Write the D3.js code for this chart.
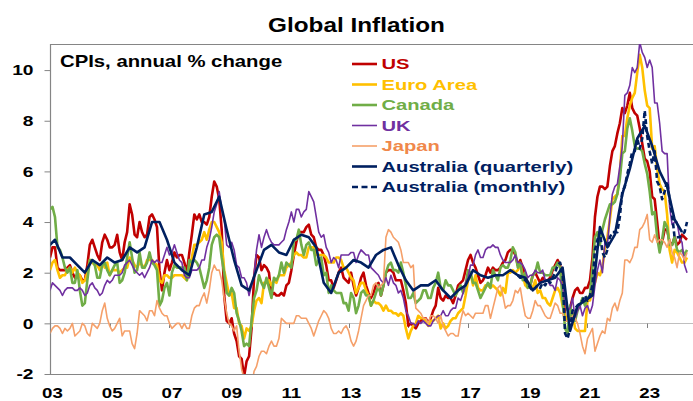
<!DOCTYPE html>
<html><head><meta charset="utf-8">
<script src="https://cdn.jsdelivr.net/npm/d3@7"></script>
<style>
body{margin:0;background:#fff;}
svg{display:block;}
text{font-family:"Liberation Sans",Arial,sans-serif;font-weight:bold;}
</style>
</head><body>
<svg id="chart" width="693" height="401"></svg>
<script>
// ---------- DATA (annual % change, monthly from Jan 2003 unless noted) ----------
const monthlyStart = 2003; // Jan 2003
const us = [
2.6,3.0,3.0,2.2,2.1,2.1,2.1,2.2,2.3,2.0,1.8,1.9,
1.9,1.7,1.7,2.3,3.1,3.3,3.0,2.7,2.5,3.2,3.5,3.3,
3.0,3.0,3.1,3.5,2.8,2.5,3.2,3.6,4.7,4.3,3.5,3.4,
4.0,3.6,3.4,3.5,4.2,4.3,4.1,3.8,2.1,1.3,2.0,2.5,
2.1,2.4,2.8,2.6,2.7,2.7,2.4,2.0,2.8,3.5,4.3,4.1,
4.3,4.0,4.0,3.9,4.2,5.0,5.6,5.4,4.9,3.7,1.1,0.1,
0.0,0.2,-0.4,-0.7,-1.3,-1.4,-2.1,-1.5,-1.3,-0.2,1.8,2.7,
2.6,2.1,2.3,2.2,2.0,1.1,1.2,1.1,1.1,1.2,1.1,1.5,
1.6,2.1,2.7,3.2,3.6,3.6,3.6,3.8,3.9,3.5,3.4,3.0,
2.9,2.9,2.7,2.3,1.7,1.7,1.4,1.7,2.0,2.2,1.8,1.7,
1.6,2.0,1.5,1.1,1.4,1.8,2.0,1.5,1.2,1.0,1.2,1.5,
1.6,1.1,1.5,2.0,2.1,2.1,2.0,1.7,1.7,1.7,1.3,0.8,
-0.1,0.0,-0.1,-0.2,0.0,0.1,0.2,0.2,0.0,0.2,0.5,0.7,
1.4,1.0,0.9,1.1,1.0,1.0,0.8,1.1,1.5,1.6,1.7,2.1,
2.5,2.7,2.4,2.2,1.9,1.6,1.7,1.9,2.2,2.0,2.2,2.1,
2.1,2.2,2.4,2.5,2.8,2.9,2.9,2.7,2.3,2.5,2.2,1.9,
1.6,1.5,1.9,2.0,1.8,1.6,1.8,1.7,1.7,1.8,2.1,2.3,
2.5,2.3,1.5,0.3,0.1,0.6,1.0,1.3,1.4,1.2,1.2,1.4,
1.4,1.7,2.6,4.2,5.0,5.4,5.4,5.3,5.4,6.2,6.8,7.0,
7.5,7.9,8.5,8.3,8.6,9.1,8.5,8.3,8.2,7.7,7.1,6.5,
6.4,6.0,5.0,4.9,4.0,3.0,3.2,3.7,3.7,3.2,3.1,3.4,
3.1,3.2,3.5,3.4,3.3];
const euroArea = [
2.1,2.4,2.5,2.1,1.8,1.9,1.9,2.1,2.2,2.0,2.2,2.0,
1.9,1.6,1.7,2.0,2.5,2.4,2.3,2.3,2.1,2.4,2.2,2.4,
1.9,2.1,2.1,2.1,2.0,2.1,2.2,2.2,2.6,2.5,2.3,2.2,
2.4,2.3,2.2,2.5,2.5,2.5,2.4,2.3,1.7,1.6,1.9,1.9,
1.8,1.8,1.9,1.9,1.9,1.9,1.8,1.7,2.1,2.6,3.1,3.1,
3.2,3.3,3.6,3.3,3.7,4.0,4.0,3.8,3.6,3.2,2.1,1.6,
1.1,1.2,0.6,0.6,0.0,-0.1,-0.6,-0.2,-0.3,-0.1,0.5,0.9,
1.0,0.8,1.6,1.6,1.7,1.5,1.7,1.6,1.9,1.9,1.9,2.2,
2.3,2.4,2.7,2.8,2.7,2.7,2.6,2.6,3.0,3.0,3.0,2.7,
2.7,2.7,2.7,2.6,2.4,2.4,2.4,2.6,2.6,2.5,2.2,2.2,
2.0,1.8,1.7,1.2,1.4,1.6,1.6,1.3,1.1,0.7,0.9,0.8,
0.8,0.7,0.5,0.7,0.5,0.5,0.4,0.4,0.3,0.4,0.3,-0.2,
-0.6,-0.3,-0.1,0.0,0.3,0.2,0.2,0.1,-0.1,0.1,0.1,0.2,
0.3,-0.2,0.0,-0.2,-0.1,0.1,0.2,0.2,0.4,0.5,0.6,1.1,
1.7,2.0,1.5,1.9,1.4,1.3,1.3,1.5,1.5,1.4,1.5,1.4,
1.3,1.1,1.4,1.2,2.0,2.0,2.1,2.0,2.1,2.3,1.9,1.5,
1.4,1.5,1.4,1.7,1.2,1.3,1.0,1.0,0.8,0.7,1.0,1.3,
1.4,1.2,0.7,0.3,0.1,0.3,0.4,-0.2,-0.3,-0.3,-0.3,-0.3,
0.9,0.9,1.3,1.6,2.0,1.9,2.2,3.0,3.4,4.1,4.9,5.0,
5.1,5.9,7.4,7.4,8.1,8.6,8.9,9.1,9.9,10.6,10.1,9.2,
8.6,8.5,6.9,7.0,6.1,5.5,5.3,5.2,4.3,2.9,2.4,2.9,
2.8,2.6,2.4,2.4,2.6];
const canada = [
4.5,4.6,4.2,3.0,2.9,2.6,2.2,2.0,2.2,1.6,1.6,2.1,
1.3,0.7,0.8,1.7,2.5,2.5,2.3,1.8,1.8,2.3,2.4,2.1,
1.9,2.1,2.3,2.4,1.6,1.7,2.0,2.6,3.2,2.6,2.0,2.1,
2.8,2.2,2.2,2.4,2.8,2.4,2.3,2.1,0.7,0.9,1.4,1.6,
1.1,2.0,2.3,2.2,2.2,2.2,2.2,1.7,2.5,2.4,2.5,2.4,
2.2,1.8,1.4,1.7,2.2,3.1,3.4,3.5,3.4,2.6,2.0,1.2,
1.1,1.4,1.2,0.4,0.1,-0.3,-0.9,-0.8,-0.9,0.1,1.0,1.3,
1.9,1.6,1.4,1.8,1.4,1.0,1.8,1.7,1.9,2.4,2.0,2.4,
2.3,2.2,3.3,3.3,3.7,3.1,2.7,3.1,3.2,2.9,2.9,2.3,
2.5,2.6,1.9,2.0,1.2,1.5,1.3,1.2,1.2,1.2,0.8,0.8,
0.5,1.2,1.0,0.4,0.7,1.2,1.3,1.1,1.1,0.7,0.9,1.2,
1.5,1.1,1.5,2.0,2.3,2.4,2.1,2.1,2.0,2.4,2.0,1.5,
1.0,1.0,1.2,0.8,0.9,1.0,1.3,1.3,1.0,1.0,1.4,1.6,
2.0,1.4,1.3,1.7,1.5,1.5,1.3,1.1,1.3,1.5,1.2,1.5,
2.1,2.0,1.6,1.6,1.3,1.0,1.2,1.4,1.6,1.4,2.1,1.9,
1.7,2.2,2.3,2.2,2.2,2.5,3.0,2.8,2.2,2.4,1.7,2.0,
1.4,1.5,1.9,2.0,2.4,2.0,2.0,1.9,1.9,1.9,2.2,2.2,
2.4,2.2,0.9,-0.2,-0.4,0.7,0.1,0.1,0.5,0.7,1.0,0.7,
1.0,1.1,2.2,3.4,3.6,3.1,3.7,4.1,4.4,4.7,4.7,4.8,
5.1,5.7,6.7,6.8,7.7,8.1,7.6,7.0,6.9,6.9,6.8,6.3,
5.9,5.2,4.3,4.4,3.4,2.8,3.3,4.0,3.8,3.1,3.1,3.4,
2.9,2.8,2.9,2.7,2.9];
const uk = [
1.3,1.6,1.5,1.4,1.3,1.1,1.3,1.4,1.4,1.4,1.3,1.3,
1.4,1.3,1.1,1.2,1.5,1.6,1.4,1.3,1.1,1.2,1.5,1.7,
1.6,1.7,1.9,1.9,1.9,2.0,2.3,2.4,2.5,2.3,2.1,2.0,
1.9,2.0,1.8,2.0,2.2,2.5,2.4,2.5,2.4,2.4,2.7,3.0,
2.7,2.8,3.1,2.8,2.5,2.4,1.9,1.8,1.8,2.1,2.1,2.1,
2.2,2.5,2.5,3.0,3.3,3.8,4.4,4.7,5.2,4.5,4.1,3.1,
3.0,3.2,2.9,2.3,2.2,1.8,1.8,1.6,1.1,1.5,1.9,2.9,
3.5,3.0,3.4,3.7,3.4,3.2,3.1,3.1,3.1,3.2,3.3,3.7,
4.0,4.4,4.0,4.5,4.5,4.2,4.4,4.5,5.2,5.0,4.8,4.2,
3.6,3.4,3.5,3.0,2.8,2.4,2.6,2.5,2.2,2.7,2.7,2.7,
2.7,2.8,2.8,2.4,2.7,2.9,2.8,2.7,2.7,2.2,2.1,2.0,
1.9,1.7,1.6,1.8,1.5,1.9,1.6,1.5,1.2,1.3,1.0,0.5,
0.3,0.0,0.0,-0.1,0.1,0.0,0.1,0.0,-0.1,-0.1,0.1,0.2,
0.3,0.3,0.5,0.3,0.3,0.5,0.6,0.6,1.0,0.9,1.2,1.6,
1.8,2.3,2.3,2.7,2.9,2.6,2.6,2.9,3.0,3.0,3.1,3.0,
3.0,2.7,2.5,2.4,2.4,2.4,2.5,2.7,2.4,2.4,2.3,2.1,
1.8,1.9,1.9,2.1,2.0,2.0,2.1,1.7,1.7,1.5,1.5,1.3,
1.8,1.7,1.5,0.8,0.5,0.6,1.0,0.2,0.5,0.7,0.3,0.6,
0.7,0.4,0.7,1.5,2.1,2.5,2.0,3.2,3.1,4.2,5.1,5.4,
5.5,6.2,7.0,9.0,9.1,9.4,10.1,9.9,10.1,11.1,10.7,10.5,
10.1,10.4,10.1,8.7,8.7,7.9,6.8,6.7,6.7,4.6,3.9,4.0,
4.0,3.4,3.2,2.3,2.0];
const japan = [
-0.4,-0.2,-0.1,-0.1,-0.2,-0.4,-0.2,-0.3,-0.2,0.0,-0.5,-0.4,
-0.3,0.0,-0.1,-0.4,-0.5,0.0,-0.1,-0.2,0.0,0.5,0.8,0.2,
-0.1,-0.3,-0.2,0.0,0.2,-0.5,-0.3,-0.3,-0.3,-0.8,-1.0,-0.4,
0.5,0.4,0.3,0.1,0.5,0.5,0.3,0.9,0.6,0.4,0.3,0.3,
0.0,-0.2,-0.1,0.0,0.0,-0.2,0.0,-0.2,-0.2,0.3,0.6,0.7,
0.7,1.0,1.2,0.8,1.3,2.0,2.3,2.1,2.1,1.7,1.0,0.4,
0.0,-0.1,-0.3,-0.1,-1.1,-1.8,-2.2,-2.2,-2.2,-2.5,-1.9,-1.7,
-1.3,-1.1,-1.1,-1.2,-0.9,-0.7,-0.9,-0.9,-0.6,0.2,0.1,0.0,
0.0,0.0,0.0,0.3,0.3,0.2,0.2,0.2,0.0,-0.2,-0.5,-0.2,
0.1,0.3,0.5,0.4,0.2,-0.2,-0.4,-0.4,-0.3,-0.4,-0.2,-0.1,
-0.3,-0.7,-0.9,-0.7,-0.3,0.2,0.7,0.9,1.1,1.1,1.5,1.6,
1.4,1.5,1.6,3.4,3.7,3.6,3.4,3.3,3.2,2.9,2.4,2.4,
2.4,2.2,2.3,0.6,0.5,0.4,0.2,0.2,0.0,0.3,0.3,0.2,
0.0,0.3,-0.1,-0.3,-0.5,-0.4,-0.4,-0.5,-0.5,0.1,0.5,0.3,
0.4,0.3,0.2,0.4,0.4,0.4,0.4,0.7,0.7,0.2,0.6,1.0,
1.4,1.5,1.1,0.6,0.7,0.7,0.9,1.3,1.2,1.4,0.8,0.3,
0.2,0.2,0.5,0.9,0.7,0.7,0.5,0.3,0.2,0.2,0.5,0.8,
0.7,0.4,0.4,0.1,0.1,0.1,0.3,0.2,0.0,-0.4,-0.9,-1.2,
-0.6,-0.4,-0.2,-1.1,-0.8,-0.5,-0.3,-0.4,0.2,0.1,0.6,0.8,
0.5,0.9,1.2,2.5,2.5,2.4,2.6,3.0,3.0,3.7,3.8,4.0,
4.3,3.3,3.2,3.5,3.2,3.3,3.3,3.2,3.0,3.3,2.8,2.6,
2.2,2.8,2.7,2.5,2.8];
// Australia quarterly CPI, from Dec quarter 2002 (plotted at quarter-end month)
const ausQuarterlyStart = 2002 + 11 / 12;
const ausQuarterly = [
3.0,
3.3,2.6,2.6,2.3, 2.0,2.5,2.3,2.6, 2.4,2.5,3.0,2.8, 3.0,4.0,4.0,3.3,
2.4,2.1,1.9,3.0, 4.3,4.4,5.0,3.7, 2.5,1.5,1.3,2.1, 2.9,3.1,2.8,2.7,
3.3,3.5,3.4,3.0, 1.6,1.2,2.0,2.2, 2.5,2.4,2.2,2.7, 2.9,3.0,2.3,1.7,
1.3,1.5,1.5,1.7, 1.3,1.0,1.3,1.5, 2.1,1.9,1.8,1.9, 1.9,2.1,1.9,1.8,
1.3,1.6,1.7,1.8, 2.2,-0.3,0.7,0.9, 1.1,3.8,3.0,3.5, 5.1,6.1,7.3,7.8,
7.0,6.0,5.4,4.1, 3.6];
// Australia monthly CPI indicator, from Sep 2018
const ausMonthlyStart = 2018 + 8 / 12;
const ausMonthly = [
1.9,1.8,1.8,1.7,
1.6,1.4,1.3,1.4,1.5,1.4,1.6,1.5,1.7,1.6,1.8,2.0,
2.3,2.4,2.0,-0.4,-0.6,-0.2,0.5,0.6,0.7,0.8,0.9,1.1,
0.9,1.1,1.5,2.9,3.3,3.6,2.8,2.6,2.9,3.4,3.6,3.6,
3.6,4.2,5.2,5.4,5.9,6.3,6.8,6.8,7.3,6.9,7.3,8.4,
7.4,6.8,6.3,6.8,5.6,5.4,4.9,5.2,5.6,4.9,4.3,3.4,
3.4,3.4,3.5,3.6,4.0];

const seriesNames = ["US","Euro Area","Canada","UK","Japan","Australia (quarterly)","Australia (monthly)"];
const yTickValues = [-2,0,2,4,6,8,10];
const xTickYears = [2003,2005,2007,2009,2011,2013,2015,2017,2019,2021,2023];
const xTickLabels = ["03","05","07","09","11","13","15","17","19","21","23"];
const titleText = "Global Inflation";
const subtitleText = "CPIs, annual % change";

// ---------- STYLE ----------
const colors = ["#C00000","#FFC000","#70AD47","#7030A0","#F5A06A","#002060","#002060"];
const textColors = ["#C00000","#FFC000","#70AD47","#7030A0","#F0884A","#002060","#002060"];
const widths = [2.6,2.6,2.6,1.6,1.6,2.6,2.6];
const dashes = [null,null,null,null,null,null,"5,3"];

// ---------- BUILD ----------
const monthlyDates = (arr, start) => arr.map((v, i) => ({t: start + i / 12, v}));
const quarterlyDates = (arr, start) => arr.map((v, i) => ({t: start + i / 4, v}));
const seriesData = [
  monthlyDates(us, monthlyStart),
  monthlyDates(euroArea, monthlyStart),
  monthlyDates(canada, monthlyStart),
  monthlyDates(uk, monthlyStart),
  monthlyDates(japan, monthlyStart),
  quarterlyDates(ausQuarterly, ausQuarterlyStart),
  monthlyDates(ausMonthly, ausMonthlyStart)
];

const svg = d3.select("#chart");
const x = d3.scaleLinear().domain([2003, 2024.5]).range([50, 692]);
const y = d3.scaleLinear().domain([-2, 11.03]).range([374, 44]);
const plotL = 50.5, plotR = 693, plotT = y.range()[1], plotB = y.range()[0];

function addText(g, str, tx, ty, size, sx, anchor, fill) {
  return g.append("text")
    .attr("transform", `translate(${tx},${ty}) scale(${sx},1)`)
    .attr("text-anchor", anchor)
    .attr("font-size", size)
    .attr("fill", fill)
    .text(str);
}

// title
addText(svg, titleText, 356.5, 32, 20, 1.216, "middle", "#000");

// clip
svg.append("defs").append("clipPath").attr("id", "plotclip")
  .append("rect").attr("x", plotL).attr("y", plotT).attr("width", plotR - plotL).attr("height", plotB - plotT);

// zero line
svg.append("line").attr("x1", plotL).attr("x2", plotR)
  .attr("y1", Math.round(y(0)) + 0.5).attr("y2", Math.round(y(0)) + 0.5)
  .attr("stroke", "#BFBFBF").attr("stroke-width", 1.2);
// x ticks on zero line
svg.append("g").selectAll("line").data(xTickYears.slice(1)).join("line")
  .attr("x1", d => Math.round(x(d)) + 0.5).attr("x2", d => Math.round(x(d)) + 0.5)
  .attr("y1", Math.round(y(0)) + 0.5).attr("y2", Math.round(y(0)) + 5)
  .attr("stroke", "#7F7F7F").attr("stroke-width", 1);

// frame
const frame = svg.append("g").attr("stroke", "#858585").attr("stroke-width", 1.2);
frame.append("line").attr("x1", plotL).attr("x2", plotR).attr("y1", plotT + 0.5).attr("y2", plotT + 0.5);
frame.append("line").attr("x1", plotL).attr("x2", plotR).attr("y1", plotB + 0.5).attr("y2", plotB + 0.5);
frame.append("line").attr("x1", plotL).attr("x2", plotL).attr("y1", plotT).attr("y2", plotB + 1);

// y axis ticks & labels
const yAxis = d3.axisLeft(y).tickValues(yTickValues).tickSize(6).tickFormat(d3.format("d"));
const yg = svg.append("g").attr("transform", `translate(${plotL},0)`).call(yAxis);
yg.select(".domain").remove();
yg.selectAll(".tick line").attr("stroke", "#858585");
yg.selectAll(".tick text").remove();
yTickValues.forEach(v => addText(svg, String(v), 33.5, y(v) + 5.4, 15, 1.28, "end", "#000"));

// x labels
xTickYears.forEach((yr, i) => addText(svg, xTickLabels[i], x(yr) + 2.5, 397.5, 14.6, 1.28, "middle", "#000"));

// subtitle
addText(svg, subtitleText, 60, 67, 16, 1.27, "start", "#000");

// lines
const line = d3.line().x(d => x(d.t)).y(d => y(d.v)).curve(d3.curveLinear);
const lg = svg.append("g").attr("clip-path", "url(#plotclip)");
seriesData.forEach((data, i) => {
  lg.append("path").datum(data).attr("d", line)
    .attr("fill", "none").attr("stroke", colors[i]).attr("stroke-width", widths[i])
    .attr("stroke-linejoin", "round")
    .attr("stroke-dasharray", dashes[i]);
});

// legend
const leg = svg.append("g");
seriesNames.forEach((name, i) => {
  const cy = 64 + i * 20.5;
  leg.append("line").attr("x1", 352).attr("x2", 377).attr("y1", cy).attr("y2", cy)
    .attr("stroke", colors[i]).attr("stroke-width", widths[i])
    .attr("stroke-dasharray", dashes[i] ? "6,3.5" : null);
  addText(leg, name, 381.5, cy + 5.3, 15, 1.345, "start", textColors[i]);
});
</script>
</body></html>
